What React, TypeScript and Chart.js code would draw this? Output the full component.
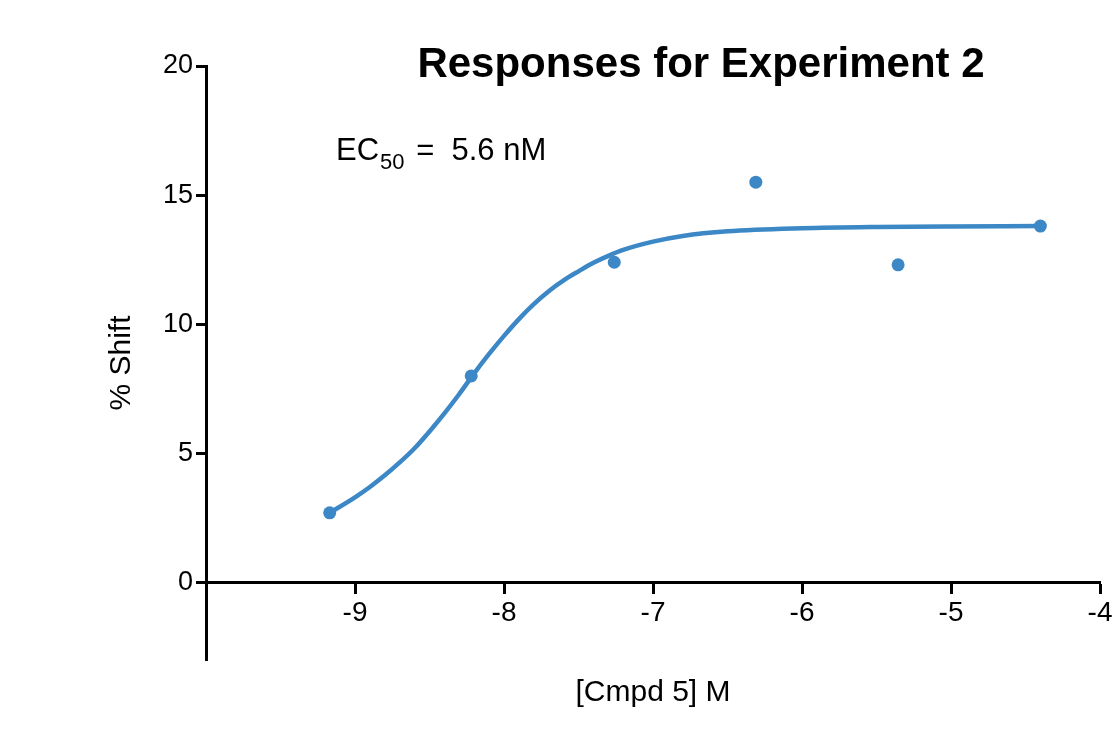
import React, { useEffect, useRef } from 'react';
import { Chart, registerables } from 'chart.js';

Chart.register(...registerables);

// ---- data ----
const titleText = 'Responses for Experiment 2';
const xAxisTitle = '[Cmpd 5] M';
const yAxisTitle = '% Shift';
const ecPrefix = 'EC';
const ecSub = '50';
const ecSuffix = ' =  5.6 nM';

// measured responses: log10 concentration vs % shift
const logConc = [-9.17, -8.22, -7.26, -6.31, -5.355, -4.4];
const shift = [2.7, 8.0, 12.4, 15.5, 12.3, 13.8];

// fitted curve
const fitX = [-9.17, -9.0, -8.9, -8.8, -8.7, -8.6, -8.5, -8.4, -8.3, -8.2, -8.1, -8.0, -7.9, -7.8, -7.7, -7.6, -7.5, -7.4, -7.3, -7.2, -7.0, -6.8, -6.5, -6.0, -5.5, -5.0, -4.4];
const fitY = [2.7, 3.3, 3.7, 4.15, 4.65, 5.2, 5.85, 6.55, 7.3, 8.1, 8.85, 9.55, 10.2, 10.78, 11.28, 11.7, 12.05, 12.38, 12.65, 12.88, 13.2, 13.42, 13.6, 13.72, 13.77, 13.79, 13.8];

const xTicks = [-9, -8, -7, -6, -5, -4];
const yTicks = [0, 5, 10, 15, 20];
const xMin = -10;
const xMax = -4;
const yMin = -3;
const yMax = 20;

const BLUE = '#3c87c6';
const FONT = "'Liberation Sans', Arial, Helvetica, sans-serif";

const textPlugin = {
  id: 'textPlugin',
  afterDraw(chart: any) {
    const { ctx, chartArea } = chart;
    ctx.save();
    ctx.fillStyle = '#000';
    // title
    ctx.font = `bold 42px ${FONT}`;
    ctx.textAlign = 'center';
    ctx.textBaseline = 'alphabetic';
    ctx.fillText(titleText, chartArea.left + 495, 77);
    // EC50 annotation
    ctx.textAlign = 'left';
    let x = chartArea.left + 130;
    const base = 160;
    ctx.font = `31px ${FONT}`;
    ctx.fillText(ecPrefix, x, base);
    x += ctx.measureText(ecPrefix).width + 1;
    ctx.font = `22px ${FONT}`;
    ctx.fillText(ecSub, x, base + 9);
    x += ctx.measureText(ecSub).width + 3;
    ctx.font = `31px ${FONT}`;
    ctx.fillText(ecSuffix, x, base);
    ctx.restore();
  },
};

export default function App() {
  const canvasRef = useRef<HTMLCanvasElement | null>(null);

  useEffect(() => {
    document.body.style.margin = '0';
    const canvas = canvasRef.current;
    if (!canvas) return;
    const chart = new Chart(canvas, {
      type: 'scatter',
      data: {
        datasets: [
          {
            label: 'fit',
            data: fitX.map((v, i) => ({ x: v, y: fitY[i] })),
            showLine: true,
            borderColor: BLUE,
            borderWidth: 4.5,
            pointRadius: 0,
            cubicInterpolationMode: 'monotone',
            fill: false,
            order: 2,
          },
          {
            label: 'data',
            data: logConc.map((v, i) => ({ x: v, y: shift[i] })),
            showLine: false,
            backgroundColor: BLUE,
            borderColor: BLUE,
            borderWidth: 0,
            pointRadius: 6.5,
            order: 1,
          },
        ],
      },
      options: {
        responsive: false,
        animation: false,
        devicePixelRatio: 1,
        layout: { padding: { left: 0, right: 18, top: 66, bottom: 71 } },
        plugins: {
          legend: { display: false },
          tooltip: { enabled: false },
          title: { display: false },
        },
        scales: {
          x: {
            type: 'linear',
            position: { y: 0 } as any,
            min: xMin,
            max: xMax,
            afterBuildTicks: (scale: any) => {
              scale.ticks = xTicks.map((v) => ({ value: v }));
            },
            afterFit: (scale: any) => {
              scale.height = 128;
            },
            ticks: {
              color: '#000',
              font: { family: FONT, size: 28 },
              padding: 4,
              maxRotation: 0,
              autoSkip: false,
              callback: (v: any) => String(v),
            },
            grid: {
              display: true,
              drawOnChartArea: false,
              drawTicks: true,
              tickLength: 10,
              tickWidth: 3,
              tickColor: '#000',
            },
            border: { display: true, color: '#000', width: 3 },
            title: {
              display: true,
              text: xAxisTitle,
              color: '#000',
              font: { family: FONT, size: 30 },
              padding: { top: 0, bottom: 0 },
            },
          },
          y: {
            type: 'linear',
            position: 'left',
            min: yMin,
            max: yMax,
            afterBuildTicks: (scale: any) => {
              scale.ticks = yTicks.map((v) => ({ value: v }));
            },
            afterFit: (scale: any) => {
              scale.width = 206;
            },
            ticks: {
              color: '#000',
              font: { family: FONT, size: 27 },
              padding: 3,
              callback: (v: any) => String(v),
            },
            grid: {
              display: true,
              drawOnChartArea: false,
              drawTicks: true,
              tickLength: 10,
              tickWidth: 3,
              tickColor: '#000',
            },
            border: { display: true, color: '#000', width: 3 },
            title: {
              display: true,
              text: yAxisTitle,
              color: '#000',
              font: { family: FONT, size: 30 },
              padding: { top: 104, bottom: 0 },
            },
          },
        },
      },
      plugins: [textPlugin],
    });
    return () => chart.destroy();
  }, []);

  return (
    <div style={{ position: 'absolute', left: 0, top: 0, width: 1118, height: 731, background: '#fff' }}>
      <canvas ref={canvasRef} width={1118} height={731} style={{ display: 'block' }} />
    </div>
  );
}
